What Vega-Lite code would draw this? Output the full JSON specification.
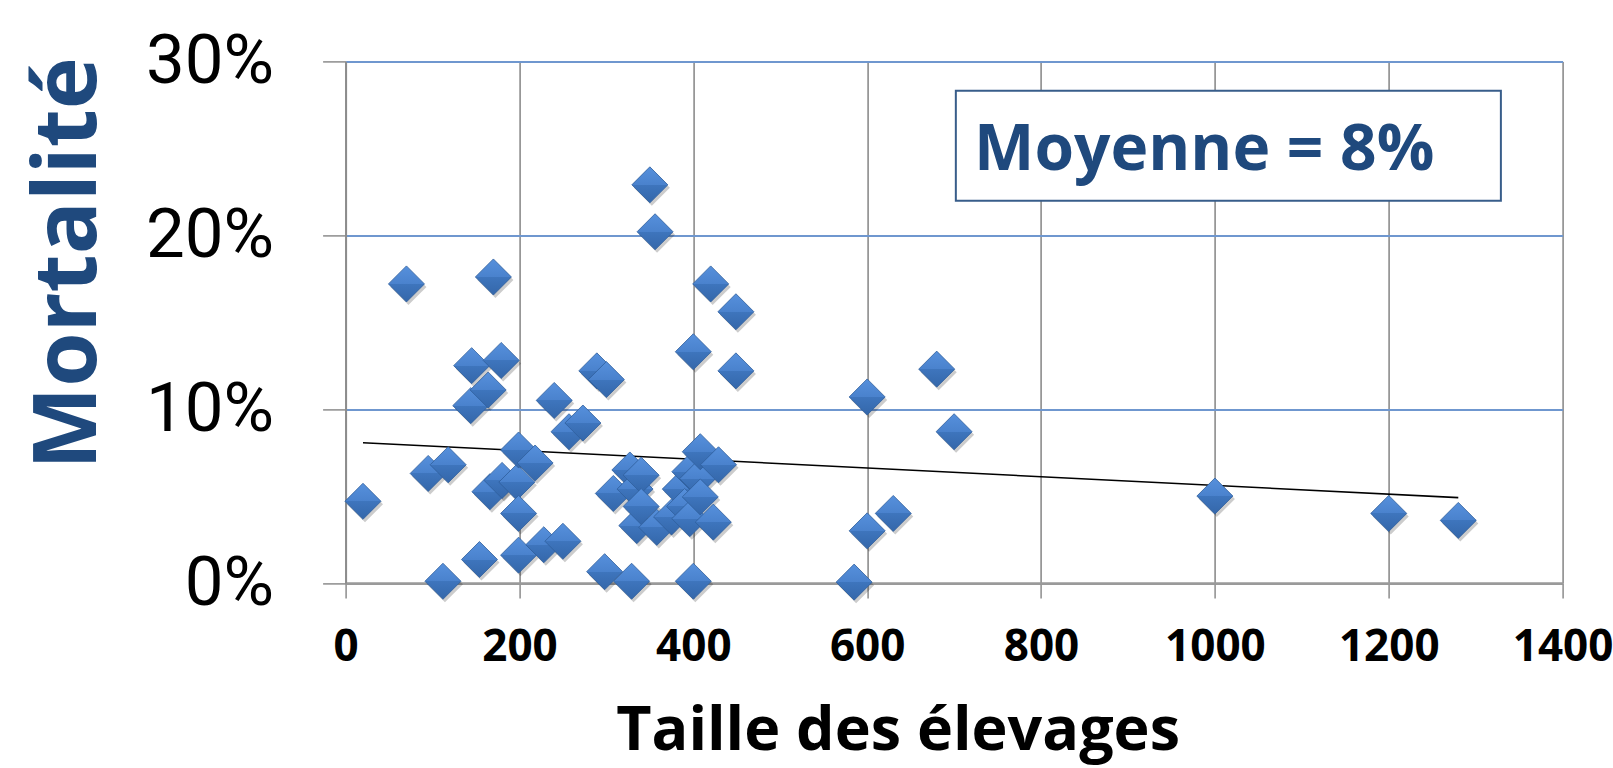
{
  "$schema": "https://vega.github.io/schema/vega-lite/v6.json",
  "width": 1217,
  "height": 521.6,
  "autosize": "none",
  "padding": {"left": 345.6, "top": 61.4, "right": 50.4, "bottom": 185},
  "background": "white",
  "config": {"view": {"stroke": null}},
  "datasets": {
    "points": [
      {"taille": 20, "mortalite": 0.047},
      {"taille": 70, "mortalite": 0.172},
      {"taille": 95, "mortalite": 0.063},
      {"taille": 112, "mortalite": 0.001},
      {"taille": 118, "mortalite": 0.068},
      {"taille": 144, "mortalite": 0.102},
      {"taille": 145, "mortalite": 0.125},
      {"taille": 154, "mortalite": 0.0135},
      {"taille": 164, "mortalite": 0.111},
      {"taille": 166, "mortalite": 0.0525},
      {"taille": 170, "mortalite": 0.176},
      {"taille": 179, "mortalite": 0.128},
      {"taille": 180, "mortalite": 0.059},
      {"taille": 197, "mortalite": 0.058},
      {"taille": 199, "mortalite": 0.0765},
      {"taille": 199, "mortalite": 0.040},
      {"taille": 199, "mortalite": 0.016},
      {"taille": 218, "mortalite": 0.069},
      {"taille": 228, "mortalite": 0.022},
      {"taille": 240, "mortalite": 0.105},
      {"taille": 250, "mortalite": 0.024},
      {"taille": 257, "mortalite": 0.087},
      {"taille": 273, "mortalite": 0.092},
      {"taille": 289, "mortalite": 0.122},
      {"taille": 298, "mortalite": 0.0065},
      {"taille": 300, "mortalite": 0.117},
      {"taille": 308, "mortalite": 0.0515},
      {"taille": 327, "mortalite": 0.065},
      {"taille": 329, "mortalite": 0.001},
      {"taille": 333, "mortalite": 0.054},
      {"taille": 335, "mortalite": 0.033},
      {"taille": 340, "mortalite": 0.062},
      {"taille": 340, "mortalite": 0.044},
      {"taille": 350, "mortalite": 0.229},
      {"taille": 356, "mortalite": 0.202},
      {"taille": 358, "mortalite": 0.032},
      {"taille": 375, "mortalite": 0.038},
      {"taille": 385, "mortalite": 0.054},
      {"taille": 390, "mortalite": 0.044},
      {"taille": 396, "mortalite": 0.064},
      {"taille": 396, "mortalite": 0.037},
      {"taille": 400, "mortalite": 0.133},
      {"taille": 400, "mortalite": 0.001},
      {"taille": 405, "mortalite": 0.060},
      {"taille": 408, "mortalite": 0.0755},
      {"taille": 408, "mortalite": 0.0495},
      {"taille": 420, "mortalite": 0.172},
      {"taille": 423, "mortalite": 0.035},
      {"taille": 429, "mortalite": 0.068},
      {"taille": 449, "mortalite": 0.156},
      {"taille": 449, "mortalite": 0.122},
      {"taille": 585, "mortalite": 0.0005},
      {"taille": 600, "mortalite": 0.107},
      {"taille": 600, "mortalite": 0.030},
      {"taille": 630, "mortalite": 0.040},
      {"taille": 680, "mortalite": 0.123},
      {"taille": 700, "mortalite": 0.087},
      {"taille": 1000, "mortalite": 0.050},
      {"taille": 1200, "mortalite": 0.040},
      {"taille": 1280, "mortalite": 0.036}
    ],
    "trend": [
      {"taille": 20, "mortalite": 0.0807},
      {"taille": 1280, "mortalite": 0.0491}
    ],
    "box": [
      {"taille": 702, "taille2": 1329, "mortalite": 0.2831, "mortalite2": 0.2198}
    ],
    "note": [
      {"taille": 723, "mortalite": 0.2375, "label": "Moyenne = 8%"}
    ]
  },
  "encoding": {
    "x": {
      "field": "taille",
      "type": "quantitative",
      "scale": {"domain": [0, 1400], "nice": false, "zero": false},
      "axis": {
        "values": [0, 200, 400, 600, 800, 1000, 1200, 1400],
        "format": "d",
        "labelFont": "Open Sans",
        "labelFontWeight": "bold",
        "labelFontSize": 44,
        "labelColor": "#000000",
        "labelFlush": false,
        "labelOverlap": false,
        "labelPadding": 27,
        "tickSize": 15,
        "tickColor": "#8c8c8c",
        "tickWidth": 1.5,
        "domainColor": "#9a9a9a",
        "domainWidth": 2.5,
        "grid": true,
        "gridColor": "#8c8c8c",
        "gridWidth": 1.6,
        "title": "Taille des élevages",
        "titleFont": "Open Sans",
        "titleFontWeight": "bold",
        "titleFontSize": 61,
        "titleColor": "#000000",
        "titleX": 552,
        "titleY": 166,
        "titleAlign": "center",
        "titleBaseline": "alphabetic"
      }
    },
    "y": {
      "field": "mortalite",
      "type": "quantitative",
      "scale": {"domain": [0, 0.3], "nice": false, "zero": false},
      "axis": {
        "values": [0, 0.1, 0.2, 0.3],
        "format": ".0%",
        "labelFont": "Roboto",
        "labelFontSize": 69,
        "labelColor": "#000000",
        "labelFlush": false,
        "labelOverlap": false,
        "labelPadding": 49,
        "labelLimit": 400,
        "tickSize": 23,
        "tickColor": "#8c8c8c",
        "tickWidth": 1.5,
        "domainColor": "#8c8c8c",
        "domainWidth": 2,
        "grid": true,
        "gridColor": {"condition": {"test": "datum.value === 0", "value": "#9a9a9a"}, "value": "#6f97cf"},
        "gridWidth": 2,
        "title": "Mortalité",
        "titleFont": "Open Sans",
        "titleFontWeight": "bold",
        "titleFontSize": 88,
        "titleColor": "#1f497d",
        "titleAngle": 270,
        "titleX": -250,
        "titleY": 201.6,
        "titleAlign": "center",
        "titleBaseline": "alphabetic"
      }
    }
  },
  "layer": [
    {
      "data": {"name": "box"},
      "mark": {"type": "rect", "fill": "#ffffff", "stroke": "#385d8a", "strokeWidth": 2},
      "encoding": {
        "x2": {"field": "taille2"},
        "y2": {"field": "mortalite2"}
      }
    },
    {
      "data": {"name": "note"},
      "mark": {"type": "text", "font": "Open Sans", "fontWeight": "bold", "fontSize": 64, "color": "#1f497d", "align": "left", "baseline": "alphabetic"},
      "encoding": {
        "text": {"field": "label"}
      }
    },
    {
      "data": {"name": "trend"},
      "mark": {"type": "line", "color": "#000000", "strokeWidth": 1.6}
    },
    {
      "data": {"name": "points"},
      "mark": {"type": "point", "shape": "diamond", "filled": true, "fill": "#000000", "opacity": 0.2, "size": 1300, "xOffset": 2, "yOffset": 3, "strokeWidth": 0}
    },
    {
      "data": {"name": "points"},
      "mark": {
        "type": "point",
        "shape": "diamond",
        "filled": true,
        "size": 1300,
        "opacity": 1,
        "fill": {
          "gradient": "linear",
          "x1": 0, "y1": 0, "x2": 0, "y2": 1,
          "stops": [
            {"offset": 0, "color": "#5690dc"},
            {"offset": 0.5, "color": "#4a82cd"},
            {"offset": 0.5, "color": "#3e75bd"},
            {"offset": 1, "color": "#3467aa"}
          ]
        },
        "stroke": "#2f5e9c",
        "strokeWidth": 0.8
      }
    }
  ]
}
